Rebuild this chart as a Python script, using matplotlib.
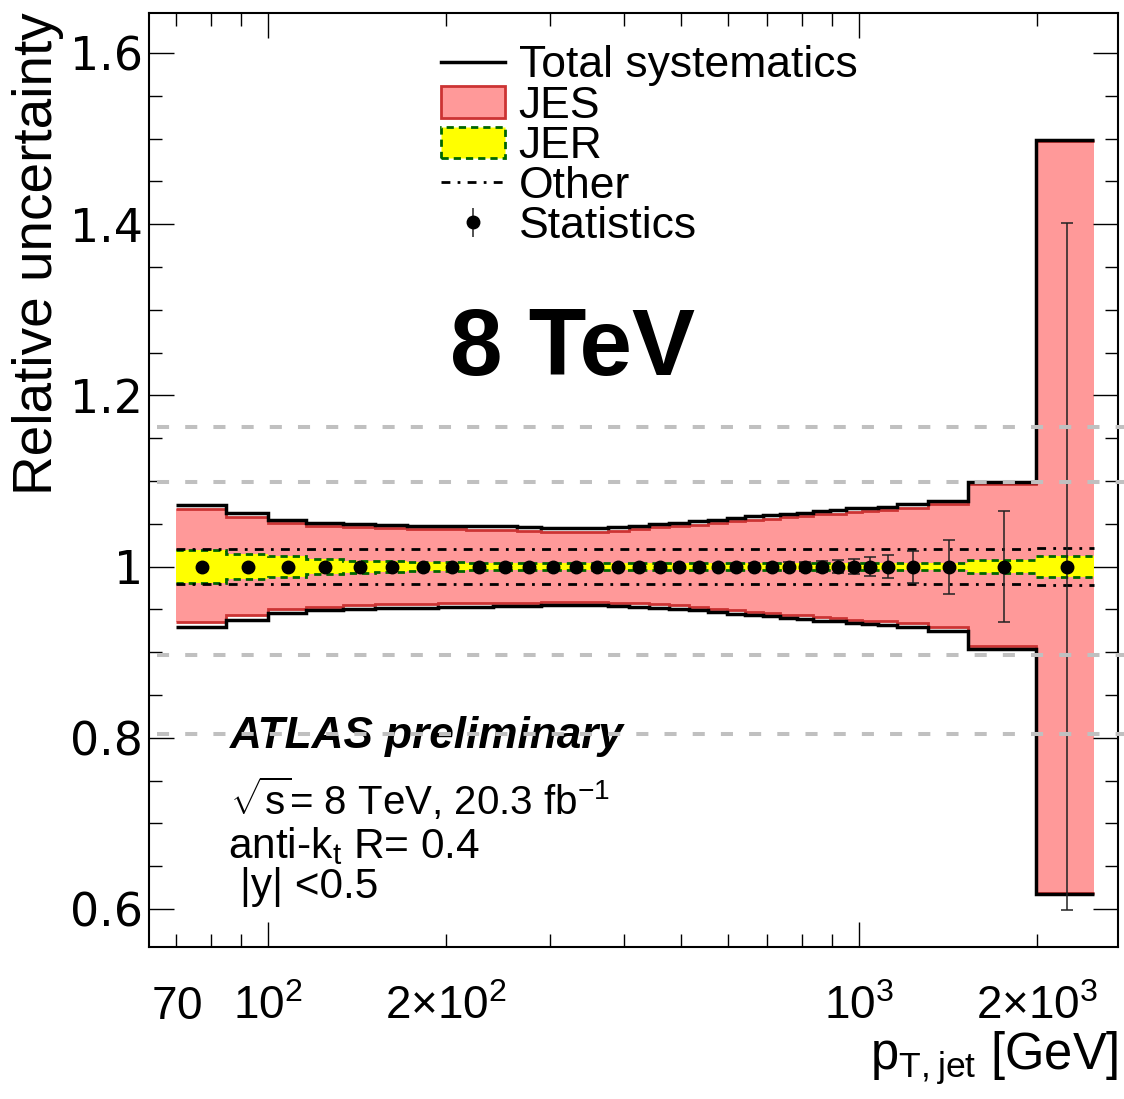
import numpy as np
import matplotlib
matplotlib.use('Agg')
import matplotlib.pyplot as plt
from matplotlib.lines import Line2D
from matplotlib.patches import Patch
from matplotlib.container import ErrorbarContainer
from matplotlib.legend_handler import HandlerErrorbar
from matplotlib.ticker import MultipleLocator

plt.rcParams['font.family'] = ['Liberation Sans', 'DejaVu Sans']
plt.rcParams['mathtext.fontset'] = 'custom'
plt.rcParams['mathtext.rm'] = 'Liberation Sans'
plt.rcParams['mathtext.default'] = 'regular'

# Inclusive jet pT binning [GeV], |y| < 0.5
pt_edges = [70, 85, 100, 116, 134, 152, 172, 194, 216, 240, 264, 290, 318,
            346, 376, 408, 442, 478, 516, 556, 598, 642, 688, 736, 786, 838,
            894, 952, 1012, 1076, 1162, 1310, 1530, 1992, 2500]

# Total systematic envelope (1 +/- delta)
total_up = [1.072, 1.063, 1.055, 1.051, 1.050, 1.049, 1.048, 1.048, 1.047,
            1.047, 1.046, 1.045, 1.045, 1.045, 1.046, 1.048, 1.050, 1.051,
            1.053, 1.055, 1.057, 1.059, 1.060, 1.062, 1.063, 1.065, 1.066,
            1.068, 1.069, 1.070, 1.073, 1.077, 1.099, 1.498]
total_down = [0.930, 0.938, 0.946, 0.949, 0.951, 0.952, 0.952, 0.953, 0.953,
              0.954, 0.954, 0.955, 0.955, 0.955, 0.954, 0.953, 0.952, 0.951,
              0.949, 0.947, 0.945, 0.943, 0.942, 0.940, 0.939, 0.937, 0.936,
              0.934, 0.933, 0.932, 0.930, 0.925, 0.904, 0.618]

# Jet energy scale component
jes_up = [1.067, 1.058, 1.051, 1.047, 1.046, 1.045, 1.044, 1.044, 1.043,
          1.043, 1.042, 1.041, 1.041, 1.041, 1.042, 1.044, 1.046, 1.047,
          1.049, 1.051, 1.053, 1.055, 1.056, 1.058, 1.059, 1.061, 1.062,
          1.064, 1.065, 1.066, 1.069, 1.073, 1.096, 1.497]
jes_down = [0.935, 0.943, 0.950, 0.953, 0.955, 0.956, 0.956, 0.957, 0.957,
            0.958, 0.958, 0.959, 0.959, 0.959, 0.958, 0.957, 0.956, 0.955,
            0.953, 0.951, 0.949, 0.947, 0.946, 0.944, 0.943, 0.941, 0.940,
            0.938, 0.937, 0.936, 0.934, 0.929, 0.907, 0.619]

# Jet energy resolution component (symmetric)
jer = [0.019, 0.015, 0.012, 0.009, 0.007, 0.006, 0.0055, 0.005, 0.0045,
       0.0045, 0.0045, 0.0045, 0.0045, 0.0045, 0.0045, 0.0045, 0.0045,
       0.0045, 0.0045, 0.0045, 0.0045, 0.0045, 0.0045, 0.0045, 0.0045,
       0.0045, 0.0045, 0.0045, 0.0045, 0.0045, 0.0045, 0.0045, 0.0075, 0.0125]

# Remaining sources (symmetric)
other = [0.020] * 33 + [0.022]

# Statistical uncertainty per bin
stat = [0.0010, 0.0008, 0.0007, 0.0007, 0.0008, 0.0008, 0.0009, 0.0010,
        0.0011, 0.0012, 0.0013, 0.0015, 0.0016, 0.0018, 0.0020, 0.0023,
        0.0025, 0.0028, 0.0030, 0.0033, 0.0036, 0.0040, 0.0044, 0.0048,
        0.0053, 0.0062, 0.0078, 0.0090, 0.0110, 0.0138, 0.0187, 0.0316,
        0.0645, 0.4010]

# Reference levels
ref_levels = [1.163, 1.099, 0.897, 0.804]

ytick_vals = [0.6, 0.8, 1.0, 1.2, 1.4, 1.6]
ytick_labels = ['0.6', '0.8', '1', '1.2', '1.4', '1.6']
xmajor_vals = [100, 1000]
xmajor_labels = [r'$10^{2}$', r'$10^{3}$']
xminor_vals = [70, 80, 90, 200, 300, 400, 500, 600, 700, 800, 900, 2000]
xminor_labels = ['$70$', '', '', r'$2{\times}10^{2}$', '', '', '', '', '', '',
                 '', r'$2{\times}10^{3}$']

edges = np.array(pt_edges, dtype=float)
centres = 0.5 * (edges[1:] + edges[:-1])
ones = np.ones(len(centres))
jer = np.array(jer)
other = np.array(other)

jes_face, jes_edge = '#ff9999', '#cc3333'
jer_face, jer_edge = '#ffff00', '#006600'
dashdot = (0, (3.2, 2.6, 1.0, 2.6))
green_dash = (0, (2.6, 1.8))

fig = plt.figure(figsize=(11.24, 10.99), dpi=100)
ax = fig.add_axes([0.1328, 0.1386, 0.8619, 0.8498])

# JES band
ax.stairs(jes_up, edges, baseline=jes_down, fill=True, color=jes_face,
          lw=0, zorder=1)
ax.stairs(jes_up, edges, baseline=None, color=jes_edge, lw=2.0, zorder=2)
ax.stairs(jes_down, edges, baseline=None, color=jes_edge, lw=2.0, zorder=2)

# JER band
ax.stairs(ones + jer, edges, baseline=ones - jer, fill=True, color=jer_face,
          lw=0, zorder=3)
for band in (ones + jer, ones - jer):
    ax.stairs(band, edges, baseline=None, color=jer_edge, lw=2.0,
              ls=green_dash, zorder=4)

# other sources
for band in (ones + other, ones - other):
    ax.stairs(band, edges, baseline=None, color='k', lw=2.0, ls=dashdot,
              zorder=5)

# total systematics
ax.stairs(total_up, edges, baseline=None, color='k', lw=2.5, zorder=6)
ax.stairs(total_down, edges, baseline=None, color='k', lw=2.5, zorder=6)

# statistics
stat_err = ax.errorbar(centres, ones, yerr=stat, fmt='o', color='k', ms=9,
                       ecolor='#222222', elinewidth=1.1, capsize=4.4,
                       capthick=1.1, zorder=7)

for lvl in ref_levels:
    ax.plot([65, 2900], [lvl, lvl], color='#c0c0c0', lw=2.9,
            ls=(0, (3, 4)), clip_on=False, zorder=9)

ax.set_xscale('log')
ax.set_xlim(63.0, 2745)
ax.set_ylim(0.556, 1.647)
ax.set_yticks(ytick_vals, labels=ytick_labels)
ax.yaxis.set_minor_locator(MultipleLocator(0.05))
ax.set_xticks(xmajor_vals, labels=xmajor_labels)
ax.set_xticks(xminor_vals, labels=xminor_labels, minor=True)

ax.tick_params(which='both', direction='in', top=True, right=True, width=1.0)
ax.tick_params(which='major', length=18)
ax.tick_params(which='minor', length=9.5)
ax.tick_params(axis='x', which='both', labelsize=33, pad=52)
ax.tick_params(axis='y', which='both', labelsize=33, pad=4.5,
               labelfontfamily='DejaVu Sans')
for lab in ax.get_xticklabels(which='both'):
    lab.set_va('baseline')
for sp in ax.spines.values():
    sp.set_linewidth(1.5)

ax.set_ylabel('Relative uncertainty', loc='top', fontsize=39.5)
ax.yaxis.set_label_coords(-0.088, 1.0)
ax.set_xlabel(r'$p_{T,jet}$ [GeV]', loc='right', fontsize=36.5)
ax.xaxis.set_label_coords(1.0, -0.088)

# legend key for the statistics: marker with a bare vertical bar
stat_key = ErrorbarContainer(
    (Line2D([], [], marker='o', color='k', ms=9, ls='none'), (),
     (stat_err.lines[2][0],)), has_xerr=False, has_yerr=True)
handles = [Line2D([], [], color='k', lw=2.5),
           Patch(fc=jes_face, ec=jes_edge, lw=2.0),
           Patch(fc=jer_face, ec=jer_edge, lw=2.0, ls=green_dash),
           Line2D([], [], color='k', lw=2.0, ls=dashdot),
           stat_key]
labels = ['Total systematics', 'JES', 'JER', 'Other', 'Statistics']
ax.legend(handles, labels, loc='upper left', bbox_to_anchor=(0.301, 0.965),
          frameon=False, fontsize=32, handlelength=1.45, handleheight=0.7,
          handletextpad=0.3, labelspacing=-0.02, borderpad=0,
          borderaxespad=0,
          handler_map={ErrorbarContainer: HandlerErrorbar(yerr_size=0.32)})

ax.text(0.3104, 0.612, '8 TeV', transform=ax.transAxes, fontsize=68,
        fontweight='bold', va='baseline')
ax.text(0.0832, 0.2127, 'ATLAS preliminary', transform=ax.transAxes,
        fontsize=31.8, fontweight='bold', fontstyle='italic', va='baseline')
ax.text(0.0832, 0.141, r'$\sqrt{s}$= 8 TeV, 20.3 fb$^{-1}$',
        transform=ax.transAxes, fontsize=29, va='baseline')
ax.text(0.0812, 0.095, r'anti-k$_{t}$ R= 0.4', transform=ax.transAxes,
        fontsize=30.5, va='baseline')
ax.text(0.0936, 0.052, '|y| <0.5', transform=ax.transAxes, fontsize=30.5,
        va='baseline')

fig.savefig('out.png', dpi=100, facecolor='white')
